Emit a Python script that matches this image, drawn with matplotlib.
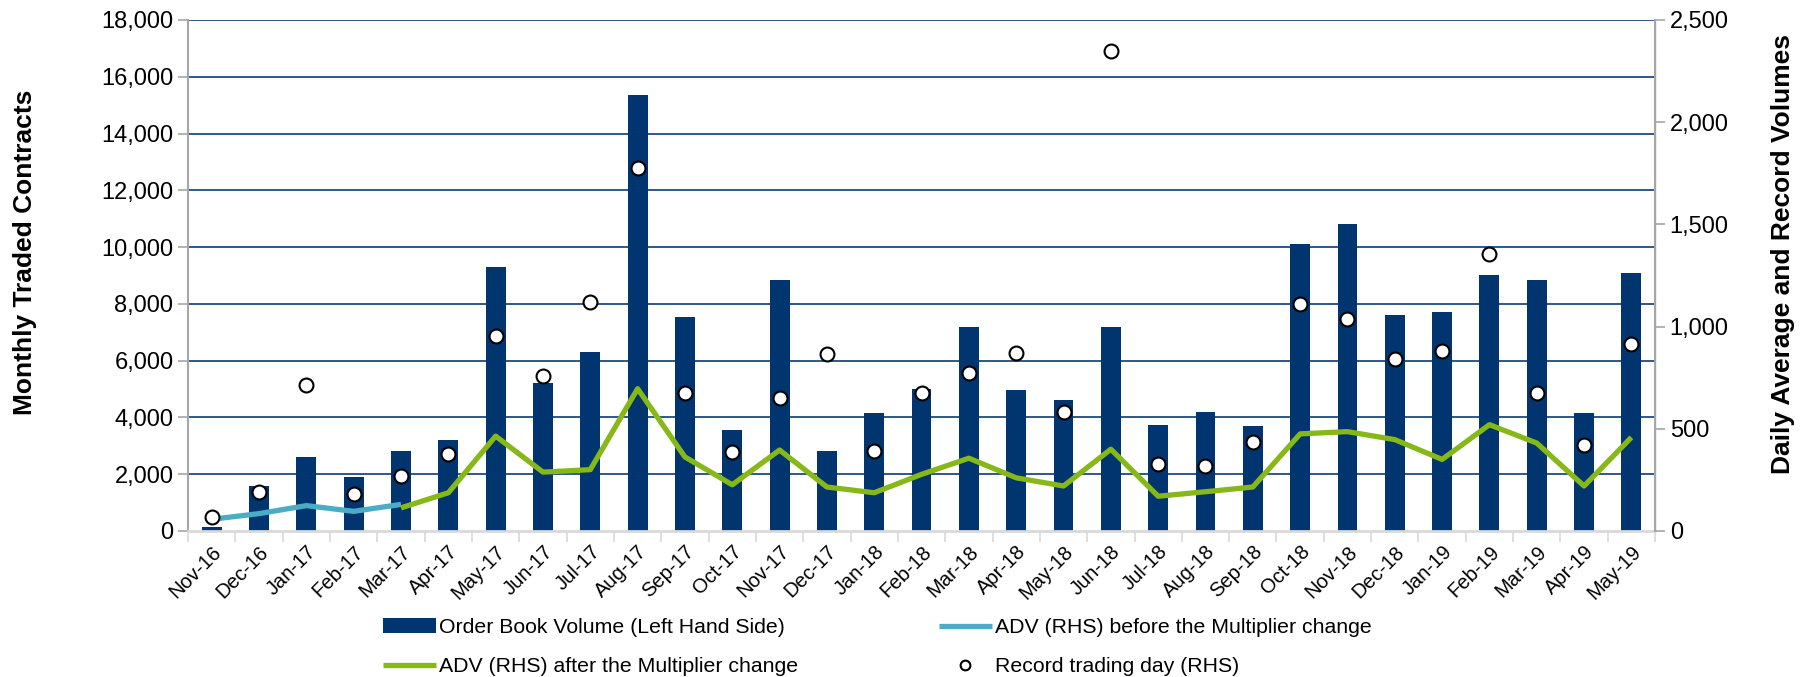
import numpy as np
import matplotlib
matplotlib.use("Agg")
import matplotlib.pyplot as plt
from matplotlib.ticker import FuncFormatter, FixedLocator

plt.rcParams['font.family'] = ['Liberation Sans', 'DejaVu Sans']

months = ['Nov-16', 'Dec-16', 'Jan-17', 'Feb-17', 'Mar-17', 'Apr-17', 'May-17', 'Jun-17',
          'Jul-17', 'Aug-17', 'Sep-17', 'Oct-17', 'Nov-17', 'Dec-17', 'Jan-18', 'Feb-18',
          'Mar-18', 'Apr-18', 'May-18', 'Jun-18', 'Jul-18', 'Aug-18', 'Sep-18', 'Oct-18',
          'Nov-18', 'Dec-18', 'Jan-19', 'Feb-19', 'Mar-19', 'Apr-19', 'May-19']

# monthly order book volume (left axis)
order_book = [150, 1600, 2600, 1900, 2800, 3200, 9300, 5200, 6300, 15350, 7550, 3550,
              8850, 2800, 4150, 5000, 7200, 4950, 4600, 7200, 3750, 4200, 3700, 10100,
              10800, 7600, 7700, 9000, 8850, 4150, 9100]

# ADV before the multiplier change, Nov-16 .. Mar-17 (right axis)
adv_before = [57, 85, 124, 96, 130]
# ADV after the multiplier change, Mar-17 .. May-19 (right axis)
adv_after = [113, 187, 464, 288, 300, 696, 362, 226, 396, 215, 187, 277, 356, 260, 220,
             400, 170, 192, 215, 475, 486, 447, 350, 520, 430, 220, 458]

# record trading day (right axis)
record_day = [68, 192, 713, 181, 271, 379, 956, 758, 1120, 1776, 673, 385, 650, 865, 390,
              673, 775, 871, 583, 2347, 328, 317, 436, 1109, 1035, 843, 882, 1357, 673,
              419, 916]

x = np.arange(len(months))

fig = plt.figure(figsize=(18.1, 6.77), dpi=100)
ax = fig.add_axes([0.1039, 0.2157, 0.8105, 0.7548])
ax2 = ax.twinx()

bar_c = '#003570'
grid_c = '#1F4A82'
spine_c = '#A6A6A6'

ax.set_axisbelow(True)
for v in range(2000, 18001, 2000):
    ax.axhline(v, color=grid_c, lw=1.3, zorder=0)

bars = ax.bar(x, order_book, width=0.42, color=bar_c, zorder=2,
              label='Order Book Volume (Left Hand Side)')
ax.set_ylim(0, 18000)
ax.set_xlim(-0.5, len(months) - 0.5)
ax.yaxis.set_major_locator(FixedLocator(range(0, 18001, 2000)))
ax.yaxis.set_major_formatter(FuncFormatter(lambda v, p: f'{int(v):,}'))
ax.tick_params(axis='y', labelsize=17, colors=spine_c, labelcolor='black', length=7, width=1.2)
ax.set_ylabel('Monthly Traded Contracts', fontsize=19, fontweight='bold', va='center')
ax.yaxis.set_label_coords(-0.111, 0.546)

ax.set_xticks(x)
ax.set_xticklabels(months, rotation=45, ha='right', rotation_mode='anchor', fontsize=14.5)
ax.tick_params(axis='x', which='major', length=0, pad=8)
ax.set_xticks(np.arange(-0.5, len(months), 1), minor=True)
ax.tick_params(axis='x', which='minor', length=8, width=1.2, color='#D9D9D9')

for s in ['top']:
    ax.spines[s].set_visible(False)
    ax2.spines[s].set_visible(False)
ax.spines['left'].set_color(spine_c)
ax.spines['left'].set_linewidth(1.5)
ax.spines['bottom'].set_color('#D9D9D9')
ax.spines['bottom'].set_linewidth(2)
ax2.spines['right'].set_color(spine_c)
ax2.spines['right'].set_linewidth(1.5)
ax2.spines['left'].set_visible(False)
ax2.spines['bottom'].set_visible(False)

l_before, = ax2.plot(x[:len(adv_before)], adv_before, color='#4BACC6', lw=3.8,
                     solid_capstyle='butt', zorder=3,
                     label='ADV (RHS) before the Multiplier change')
l_after, = ax2.plot(x[len(adv_before) - 1:], adv_after, color='#86B817', lw=3.8,
                    solid_capstyle='butt', zorder=3,
                    label='ADV (RHS) after the Multiplier change')
rec, = ax2.plot(x, record_day, ls='none', marker='o', ms=10, mfc='white', mec='black',
                mew=1.5, zorder=4, label='Record trading day (RHS)')
ax2.set_ylim(0, 2500)
ax2.yaxis.set_major_locator(FixedLocator(range(0, 2501, 500)))
ax2.yaxis.set_major_formatter(FuncFormatter(lambda v, p: f'{int(v):,}'))
ax2.tick_params(axis='y', labelsize=17, colors=spine_c, labelcolor='black', length=7, width=1.2)
ax2.set_ylabel('Daily Average and Record Volumes', fontsize=19, fontweight='bold',
               va='center')
ax2.yaxis.set_label_coords(1.087, 0.542)

leg_rec = plt.Line2D([], [], ls='none', marker='o', ms=7, mfc='white', mec='black', mew=1.5)
fig.legend([bars, l_after, l_before, leg_rec],
           ['Order Book Volume (Left Hand Side)', 'ADV (RHS) after the Multiplier change',
            'ADV (RHS) before the Multiplier change', 'Record trading day (RHS)'],
           loc='upper left', bbox_to_anchor=(0.2116, 0.087), ncol=2, frameon=False,
           fontsize=15.3, handlelength=2.5, handletextpad=0.15, columnspacing=6.6,
           labelspacing=0.95, borderpad=0, borderaxespad=0)

fig.savefig('out.png', dpi=100)
